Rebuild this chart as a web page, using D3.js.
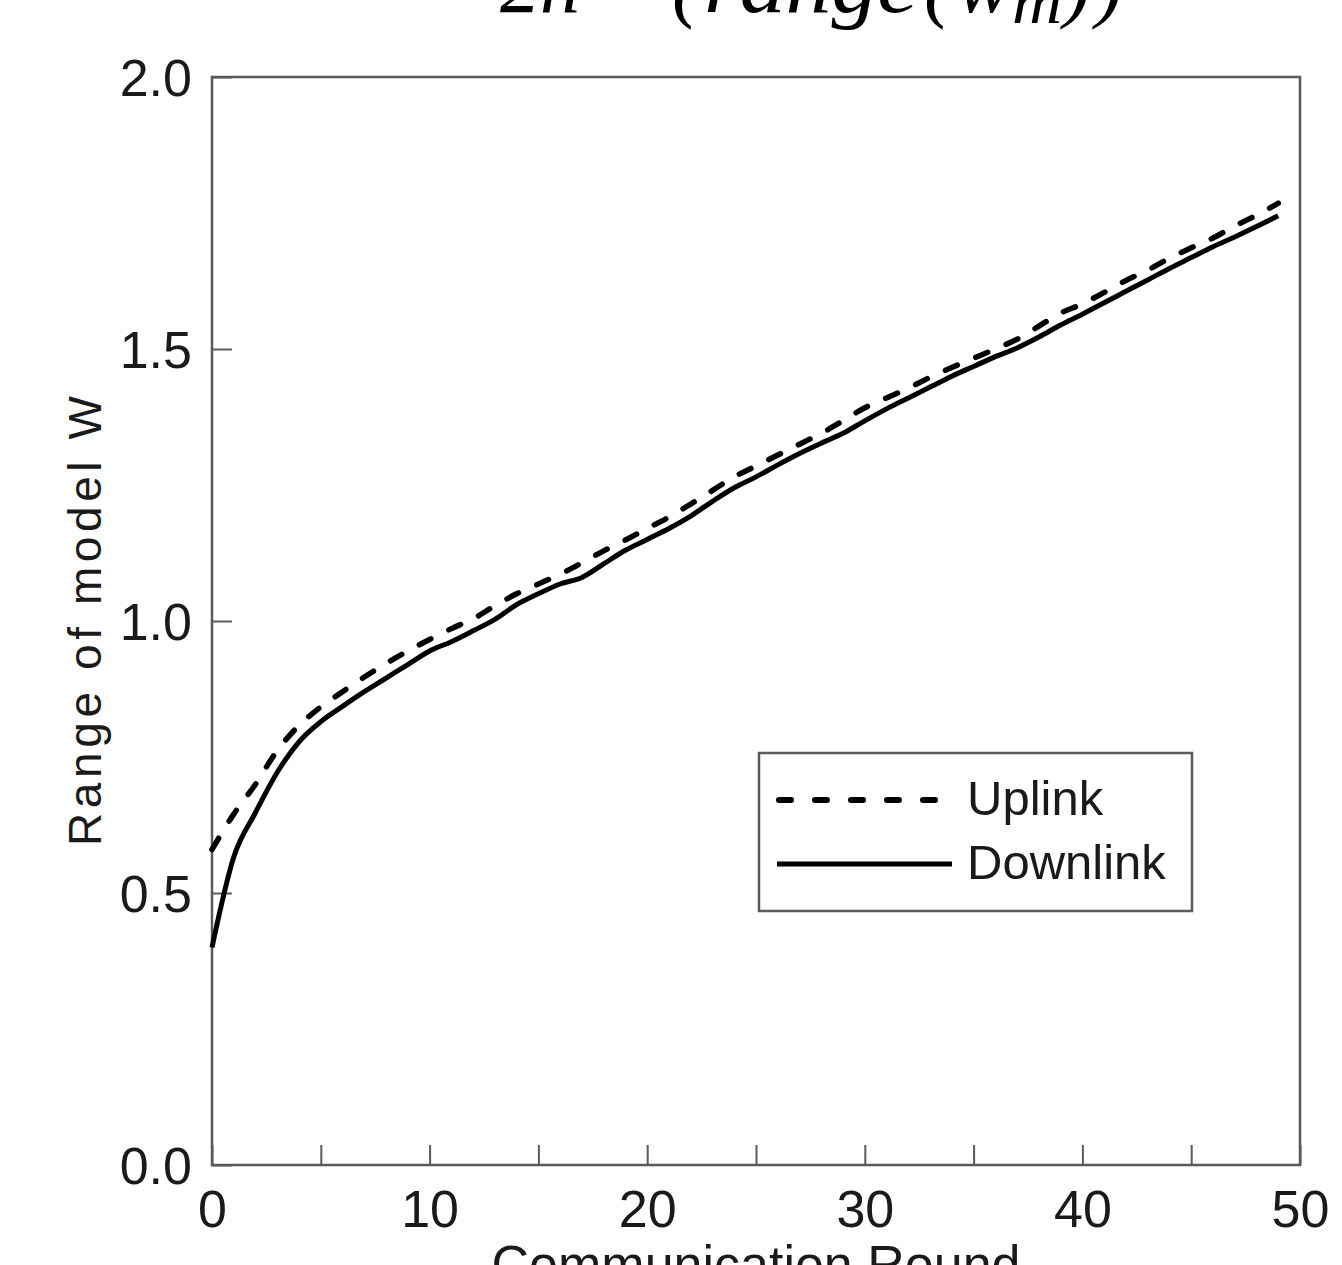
<!DOCTYPE html>
<html>
<head>
<meta charset="utf-8">
<script src="https://cdn.jsdelivr.net/npm/d3@7"></script>
<style>
  html, body { margin: 0; padding: 0; background: #fff; }
  svg { display: block; }
</style>
</head>
<body>
<svg id="chart" width="1342" height="1265"></svg>
<script>
// ---- data ----
const rounds = d3.range(0, 50);
const uplink = [0.58, 0.645, 0.70, 0.762, 0.808, 0.842, 0.870, 0.897, 0.922, 0.945,
  0.966, 0.986, 1.004, 1.028, 1.050, 1.068, 1.086, 1.107, 1.129, 1.149,
  1.170, 1.191, 1.215, 1.240, 1.265, 1.285, 1.305, 1.325, 1.345, 1.368,
  1.392, 1.410, 1.428, 1.448, 1.466, 1.483, 1.500, 1.518, 1.542, 1.566,
  1.583, 1.604, 1.626, 1.645, 1.667, 1.686, 1.704, 1.726, 1.746, 1.768];
const downlink = [0.40, 0.566, 0.648, 0.722, 0.778, 0.815, 0.843, 0.870, 0.895, 0.920,
  0.945, 0.962, 0.982, 1.003, 1.030, 1.050, 1.068, 1.080, 1.105, 1.130,
  1.150, 1.170, 1.193, 1.220, 1.245, 1.265, 1.287, 1.308, 1.327, 1.345,
  1.368, 1.390, 1.410, 1.430, 1.450, 1.468, 1.486, 1.502, 1.522, 1.544,
  1.564, 1.585, 1.606, 1.627, 1.648, 1.668, 1.688, 1.706, 1.725, 1.745];
const xTicks = [0, 5, 10, 15, 20, 25, 30, 35, 40, 45, 50];
const xTickLabels = ["0", "", "10", "", "20", "", "30", "", "40", "", "50"];
const yTicks = [0, 0.5, 1.0, 1.5, 2.0];
const yTickLabels = ["0.0", "0.5", "1.0", "1.5", "2.0"];
const seriesNames = ["Uplink", "Downlink"];
const xLabel = "Communication  Round";
const yLabel = "Range  of  model  W";

// ---- layout ----
const svg = d3.select("#chart");
const L = 212, R = 1300, T = 77, B = 1165;
const x = d3.scaleLinear().domain([0, 50]).range([L, R]);
const y = d3.scaleLinear().domain([0, 2]).range([B, T]);
const axisColor = "#5a5a5a";
const textColor = "#1a1a1a";
const sans = "'Liberation Sans', Arial, sans-serif";

// title fragment (cut off at the top)
const title = svg.append("g").attr("font-family", "'Liberation Serif', 'Times New Roman', serif")
  .attr("font-style", "italic").attr("fill", "#000");
title.append("text").attr("x", 500).attr("y", 12).attr("font-size", 82)
  .attr("textLength", 80).attr("lengthAdjust", "spacingAndGlyphs").text("2n");
title.append("text").attr("x", 672).attr("y", 12).attr("font-size", 82).text("(");
title.append("text").attr("x", 704).attr("y", 12).attr("font-size", 82)
  .attr("textLength", 214).attr("lengthAdjust", "spacingAndGlyphs").text("range");
title.append("text").attr("x", 924).attr("y", 12).attr("font-size", 82).text("(");
title.append("text").attr("x", 956).attr("y", 12).attr("font-size", 82)
  .attr("textLength", 56).attr("lengthAdjust", "spacingAndGlyphs").text("w");
title.append("text").attr("x", 1012).attr("y", 23).attr("font-size", 64)
  .attr("textLength", 50).attr("lengthAdjust", "spacingAndGlyphs").text("m");
title.append("text").attr("x", 1064).attr("y", 12).attr("font-size", 82).text(")");
title.append("text").attr("x", 1096).attr("y", 12).attr("font-size", 82).text(")");

// axes with inward ticks
const xAxis = d3.axisBottom(x).tickValues(xTicks).tickSizeInner(-20).tickSizeOuter(0)
  .tickFormat((d, i) => xTickLabels[i]).tickPadding(30);
const gx = svg.append("g").attr("transform", `translate(0,${B})`).call(xAxis);
gx.select(".domain").remove();
gx.selectAll(".tick line").attr("stroke", axisColor).attr("stroke-width", 2);
gx.selectAll(".tick text").attr("font-family", sans).attr("font-size", 52)
  .attr("fill", textColor).attr("dy", "0.71em").attr("y", 25);

const yAxis = d3.axisLeft(y).tickValues(yTicks).tickSizeInner(-20).tickSizeOuter(0)
  .tickFormat((d, i) => yTickLabels[i]);
const gy = svg.append("g").attr("transform", `translate(${L},0)`).call(yAxis);
gy.select(".domain").remove();
gy.selectAll(".tick line").attr("stroke", axisColor).attr("stroke-width", 2);
gy.selectAll(".tick text").attr("font-family", sans).attr("font-size", 52)
  .attr("fill", textColor).attr("x", -20).attr("dy", "0.36em");

// frame
svg.append("rect").attr("x", L).attr("y", T).attr("width", R - L).attr("height", B - T)
  .attr("fill", "none").attr("stroke", axisColor).attr("stroke-width", 2.5);

// axis labels
svg.append("text").attr("x", (L + R) / 2).attr("y", 1282).attr("text-anchor", "middle")
  .attr("font-family", sans).attr("font-size", 52).attr("fill", textColor).text(xLabel);
svg.append("text").attr("transform", `translate(101,${(T + B) / 2}) rotate(-90)`)
  .attr("text-anchor", "middle").attr("font-family", sans).attr("font-size", 46)
  .attr("fill", textColor).attr("textLength", 450).attr("lengthAdjust", "spacing").text(yLabel);

// lines
const line = d3.line().x((d, i) => x(rounds[i])).y(d => y(d)).curve(d3.curveMonotoneX);
svg.append("path").datum(downlink).attr("d", line).attr("fill", "none")
  .attr("stroke", "#000").attr("stroke-width", 5).attr("stroke-linejoin", "round");
svg.append("path").datum(uplink).attr("d", line).attr("fill", "none")
  .attr("stroke", "#000").attr("stroke-width", 5.5).attr("stroke-dasharray", "13,20")
  .attr("stroke-linecap", "round");

// legend
const lg = svg.append("g");
lg.append("rect").attr("x", 759).attr("y", 753).attr("width", 433).attr("height", 158)
  .attr("fill", "#fff").attr("stroke", axisColor).attr("stroke-width", 2.5);
lg.append("line").attr("x1", 779).attr("x2", 935).attr("y1", 800).attr("y2", 800)
  .attr("stroke", "#000").attr("stroke-width", 6).attr("stroke-dasharray", "12,24")
  .attr("stroke-linecap", "round");
lg.append("line").attr("x1", 777).attr("x2", 952).attr("y1", 864).attr("y2", 864)
  .attr("stroke", "#000").attr("stroke-width", 5);
lg.selectAll("text.leg").data(seriesNames).enter().append("text").attr("class", "leg")
  .attr("x", 967).attr("y", (d, i) => 815 + i * 64)
  .attr("font-family", sans).attr("font-size", 49).attr("fill", textColor).text(d => d);
</script>
</body>
</html>
